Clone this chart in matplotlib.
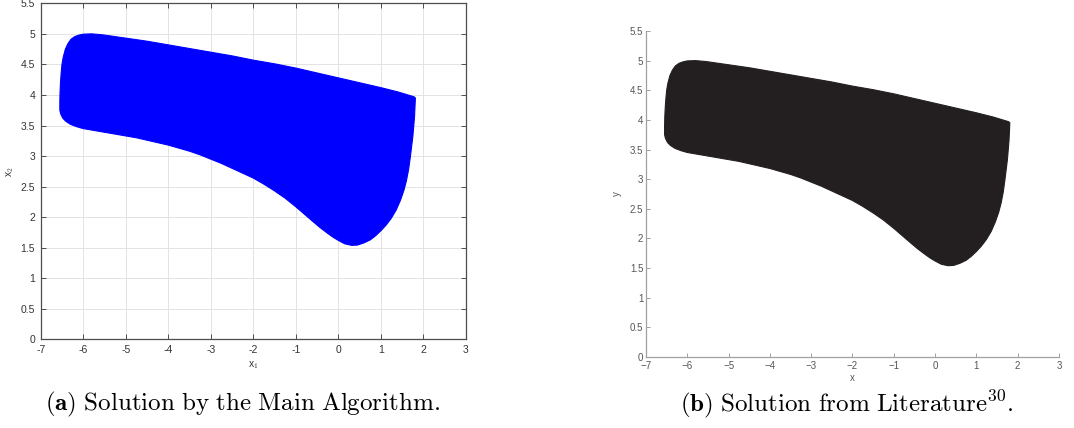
import matplotlib
matplotlib.use("Agg")
import matplotlib.pyplot as plt

plt.rcParams['mathtext.fontset'] = 'cm'
plt.rcParams['font.family'] = ['Liberation Sans', 'DejaVu Sans']

# Boundary of the region (x1, x2), traced counter-clockwise
bx = [-6.55, -6.53, -6.48, -6.41, -6.3, -6.15, -6.0, -5.75, -5.5, -5.25, -5.0,
      -4.75, -4.5, -4.25, -4.0, -3.75, -3.5, -3.25, -3.0, -2.75, -2.5, -2.25,
      -2.0, -1.75, -1.5, -1.25, -1.0, -0.8, -0.6, -0.43, -0.26, -0.12, 0.0,
      0.15, 0.31, 0.45, 0.6, 0.75, 0.88, 1.0, 1.12, 1.24, 1.36, 1.46, 1.54,
      1.60, 1.65, 1.69, 1.72, 1.75, 1.77, 1.79, 1.80, 1.81,
      1.78, 1.4, 1.0, 0.5, 0.0, -0.5, -1.0, -1.5, -2.0, -2.5, -3.0, -3.5,
      -4.0, -4.5, -5.0, -5.3, -5.55, -5.8, -6.0, -6.1, -6.2, -6.29, -6.36,
      -6.42, -6.47, -6.5, -6.52, -6.535, -6.545, -6.55]
by = [3.75, 3.69, 3.62, 3.57, 3.52, 3.48, 3.45, 3.42, 3.39, 3.36, 3.33,
      3.30, 3.26, 3.22, 3.18, 3.13, 3.08, 3.02, 2.95, 2.88, 2.80, 2.72,
      2.64, 2.54, 2.43, 2.31, 2.17, 2.05, 1.93, 1.83, 1.74, 1.67, 1.62,
      1.565, 1.54, 1.545, 1.58, 1.63, 1.70, 1.78, 1.87, 1.98, 2.12, 2.28, 2.44,
      2.60, 2.78, 2.98, 3.15, 3.32, 3.48, 3.65, 3.8, 3.95,
      3.97, 4.05, 4.12, 4.20, 4.28, 4.36, 4.44, 4.51, 4.57, 4.64, 4.70, 4.76,
      4.82, 4.88, 4.93, 4.96, 4.985, 5.0, 4.995, 4.98, 4.955, 4.91, 4.84,
      4.75, 4.62, 4.5, 4.35, 4.2, 4.05, 3.9]

xticks = [-7, -6, -5, -4, -3, -2, -1, 0, 1, 2, 3]
yticks = [0, 0.5, 1, 1.5, 2, 2.5, 3, 3.5, 4, 4.5, 5, 5.5]
xlabels_a = ['-7', '-6', '-5', '-4', '-3', '-2', '-1', '0', '1', '2', '3']
xlabels_b = ['\u22127', '\u22126', '\u22125', '\u22124', '\u22123', '\u22122', '\u22121', '0', '1', '2', '3']
ylabels = ['0', '0.5', '1', '1.5', '2', '2.5', '3', '3.5', '4', '4.5', '5', '5.5']

fig = plt.figure(figsize=(10.74, 4.28), dpi=100)

# ---- (a) left panel, MATLAB style ----
axa = fig.add_axes([0.0379, 0.2068, 0.396, 0.7855])
axa.fill(bx, by, color='#0000ff', lw=0.8, ec='#0000ff', zorder=3)
axa.set_xlim(-7, 3)
axa.set_ylim(0, 5.5)
axa.set_xticks(xticks)
axa.set_xticklabels(xlabels_a)
axa.set_yticks(yticks)
axa.set_yticklabels(ylabels)
axa.grid(True, color='#e3e3e3', lw=0.7, zorder=0)
axa.set_axisbelow(True)
for s in axa.spines.values():
    s.set_color('#4d4d4d')
    s.set_linewidth(0.9)
axa.tick_params(direction='in', length=3.5, width=0.7, color='#4d4d4d',
                labelsize=7.5, labelcolor='#333333', top=True, right=True, pad=4)
axa.set_xlabel('x$_1$', fontsize=7.5, color='#333333', labelpad=3)
axa.set_ylabel('x$_2$', fontsize=7.5, color='#333333', labelpad=3)

# ---- (b) right panel ----
axb = fig.add_axes([0.6015, 0.1659, 0.3845, 0.7617])
axb.fill(bx, by, color='#231f20', lw=0.8, ec='#231f20', zorder=3)
axb.set_xlim(-7, 3)
axb.set_ylim(0, 5.5)
axb.set_xticks(xticks)
axb.set_xticklabels(xlabels_b)
axb.set_yticks(yticks)
axb.set_yticklabels(ylabels)
axb.spines['top'].set_visible(False)
axb.spines['right'].set_visible(False)
for s in ['left', 'bottom']:
    axb.spines[s].set_color('#a0a0a0')
    axb.spines[s].set_linewidth(0.9)
axb.tick_params(direction='in', length=3, width=0.7, color='#a0a0a0',
                labelsize=7, labelcolor='#555555', pad=2)
axb.tick_params(axis='x', pad=3)
axb.set_xlabel('x', fontsize=7, color='#555555', labelpad=1)
axb.set_ylabel('y', fontsize=7, color='#555555', labelpad=6)

# ---- captions ----
fig.text(0.226, 0.055, r'$\mathbf{(a)}\ \mathrm{Solution\ by\ the\ Main\ Algorithm.}$',
         ha='center', va='center', fontsize=18)
fig.text(0.788, 0.055, r'$\mathbf{(b)}\ \mathrm{Solution\ from\ Literature}^{30}\mathrm{.}$',
         ha='center', va='center', fontsize=18)

fig.savefig('out.png', dpi=100)
